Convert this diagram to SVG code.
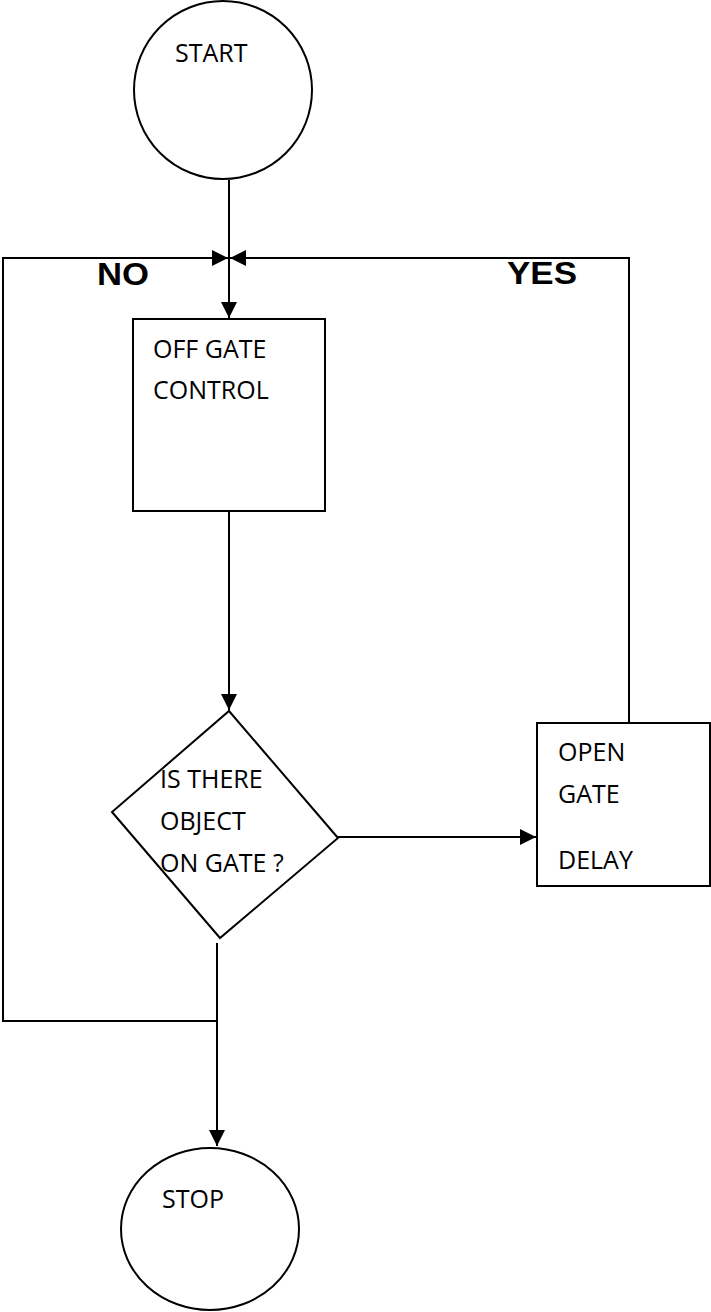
<svg xmlns="http://www.w3.org/2000/svg" width="711" height="1312" viewBox="0 0 711 1312">
<style>
.s{fill:none;stroke:#000;stroke-width:2}
.n{fill:#fff;stroke:#000;stroke-width:2}
.t{font-family:"Open Sans","Liberation Sans",sans-serif;font-size:25px;fill:#000}
.b{font-family:"Liberation Sans",Arial,sans-serif;font-weight:bold;font-size:32px;fill:#000}
</style>
<defs>
<marker id="ah" markerWidth="16" markerHeight="16" viewBox="0 0 16 16" refX="16" refY="8" orient="auto" markerUnits="userSpaceOnUse">
<path d="M0,0 L16,8 L0,16 Z" fill="#000"/>
</marker>
</defs>
<rect width="711" height="1312" fill="#fff"/>
<g id="connectors">
<line class="s" x1="229" y1="180" x2="229" y2="318" marker-end="url(#ah)"/>
<polyline class="s" points="217,943 217,1021 3,1021 3,258 228,258" marker-end="url(#ah)"/>
<polyline class="s" points="629,723 629,258 230,258" marker-end="url(#ah)"/>
<line class="s" x1="229" y1="511" x2="229" y2="710" marker-end="url(#ah)"/>
<line class="s" x1="338" y1="837" x2="536" y2="837" marker-end="url(#ah)"/>
<line class="s" x1="217" y1="1021" x2="217" y2="1146" marker-end="url(#ah)"/>
<text class="b" x="97" y="285" textLength="52" lengthAdjust="spacingAndGlyphs">NO</text>
<text class="b" x="507" y="284" textLength="70" lengthAdjust="spacingAndGlyphs">YES</text>
</g>
<g id="start">
<circle class="n" cx="223" cy="90" r="89"/>
<text class="t" x="175" y="62">START</text>
</g>
<g id="offgate">
<rect class="n" x="133" y="319" width="192" height="192"/>
<text class="t" x="153" y="358">OFF GATE</text>
<text class="t" x="153" y="399">CONTROL</text>
</g>
<g id="decision">
<polygon class="n" points="229,711 338,838 220,938 112,812"/>
<text class="t" x="160" y="788">IS THERE</text>
<text class="t" x="160" y="830">OBJECT</text>
<text class="t" x="160" y="872">ON GATE ?</text>
</g>
<g id="opengate">
<rect class="n" x="537" y="723" width="173" height="163"/>
<text class="t" x="558" y="761">OPEN</text>
<text class="t" x="558" y="803">GATE</text>
<text class="t" x="558" y="869">DELAY</text>
</g>
<g id="stop">
<ellipse class="n" cx="210" cy="1229" rx="89" ry="81"/>
<text class="t" x="162" y="1208">STOP</text>
</g>
</svg>
